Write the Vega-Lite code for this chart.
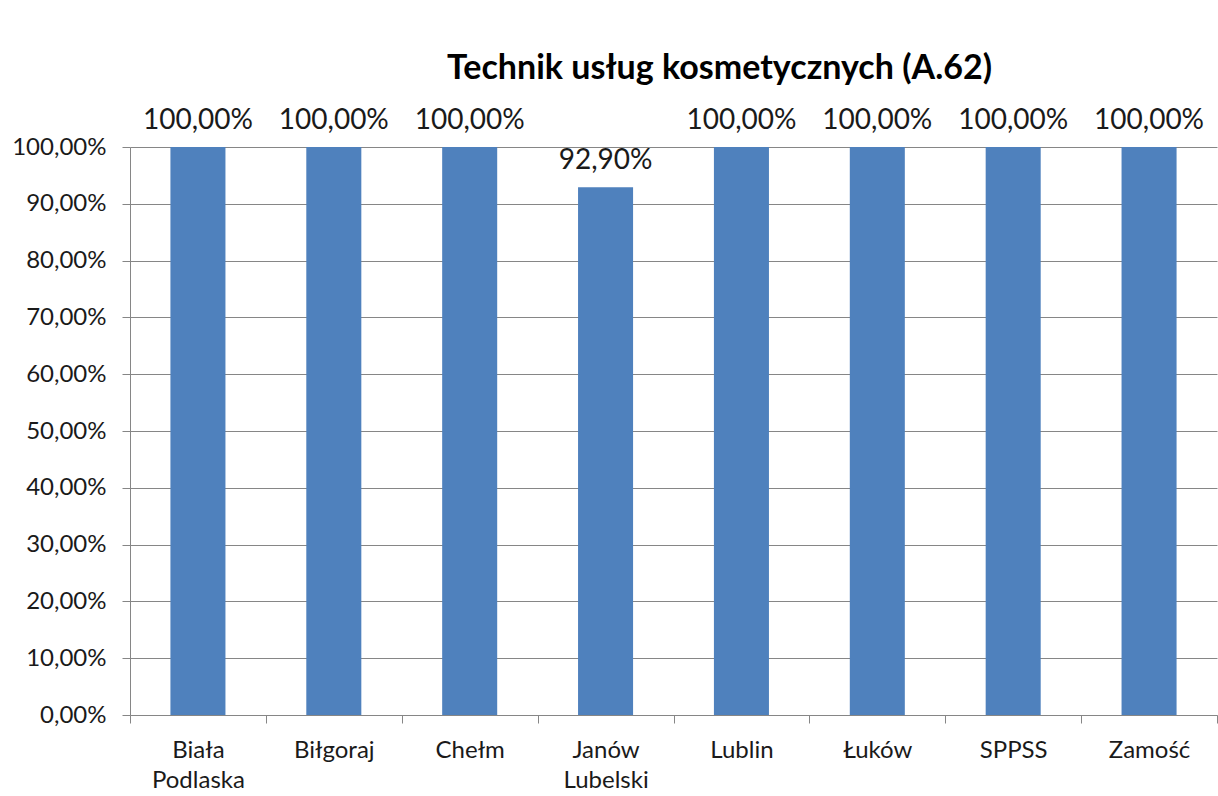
{
  "$schema": "https://vega.github.io/schema/vega-lite/v6.json",
  "width": 1087,
  "height": 568,
  "autosize": {"type": "none"},
  "padding": {"left": 130, "top": 147, "right": 1, "bottom": 81},
  "background": "white",
  "config": {
    "locale": {"number": {"decimal": ",", "thousands": " ", "grouping": [3], "currency": ["", " zł"]}},
    "font": "Lato",
    "view": {"stroke": null}
  },
  "title": {
    "text": "Technik usług kosmetycznych (A.62)",
    "font": "Lato",
    "fontSize": 34,
    "fontWeight": "bold",
    "color": "#000000",
    "anchor": "middle",
    "dx": 46,
    "offset": 58,
    "dy": 37
  },
  "data": {
    "values": [
      {"miasto": "Biała|Podlaska", "wynik": 1.0},
      {"miasto": "Biłgoraj", "wynik": 1.0},
      {"miasto": "Chełm", "wynik": 1.0},
      {"miasto": "Janów|Lubelski", "wynik": 0.929},
      {"miasto": "Lublin", "wynik": 1.0},
      {"miasto": "Łuków", "wynik": 1.0},
      {"miasto": "SPPSS", "wynik": 1.0},
      {"miasto": "Zamość", "wynik": 1.0}
    ]
  },
  "encoding": {
    "x": {
      "field": "miasto",
      "type": "nominal",
      "sort": null,
      "scale": {"paddingInner": 0, "paddingOuter": 0},
      "axis": {
        "title": null,
        "labelAngle": 0,
        "labelExpr": "split(datum.label, '|')",
        "labelFont": "Lato",
        "labelFontSize": 24,
        "labelColor": "#1a1a1a",
        "labelLineHeight": 30,
        "labelPadding": 15,
        "labelBaseline": "top",
        "tickBand": "extent",
        "tickSize": 8,
        "tickColor": "#868686",
        "domainColor": "#868686",
        "grid": false
      }
    },
    "y": {
      "field": "wynik",
      "type": "quantitative",
      "scale": {"domain": [0, 1], "nice": false},
      "axis": {
        "title": null,
        "values": [0, 0.1, 0.2, 0.3, 0.4, 0.5, 0.6, 0.7, 0.8, 0.9, 1.0],
        "format": ".2%",
        "labelFont": "Lato",
        "labelFontSize": 24,
        "labelColor": "#1a1a1a",
        "labelPadding": 16,
        "tickSize": 8,
        "tickColor": "#868686",
        "domainColor": "#868686",
        "gridColor": "#868686",
        "gridWidth": 1
      }
    }
  },
  "layer": [
    {"mark": {"type": "bar", "color": "#4F81BD", "width": {"band": 0.405}}},
    {
      "mark": {"type": "text", "baseline": "bottom", "dy": -12, "font": "Lato", "fontSize": 28, "color": "#1a1a1a"},
      "encoding": {"text": {"field": "wynik", "type": "quantitative", "format": ".2%"}}
    }
  ]
}
